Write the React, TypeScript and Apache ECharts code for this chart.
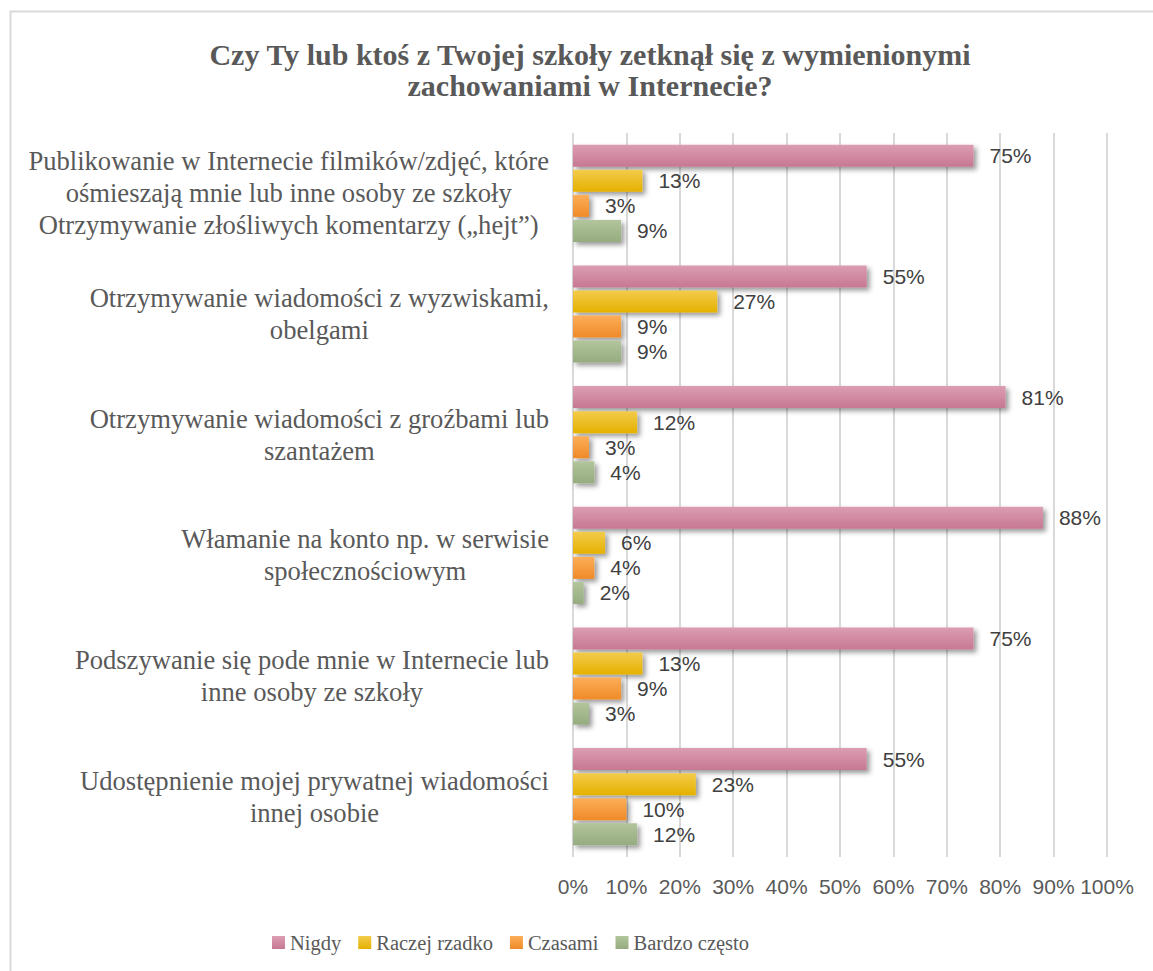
import React, { useEffect, useRef } from "react";
import * as echarts from "echarts";

const titleText = "Czy Ty lub ktoś z Twojej szkoły zetknął się z wymienionymi\nzachowaniami w Internecie?";

const categories = [
  "Publikowanie w Internecie filmików/zdjęć, które\nośmieszają mnie lub inne osoby ze szkoły\nOtrzymywanie złośliwych komentarzy („hejt”)",
  "Otrzymywanie wiadomości z wyzwiskami,\nobelgami",
  "Otrzymywanie wiadomości z groźbami lub\nszantażem",
  "Włamanie na konto np. w serwisie\nspołecznościowym",
  "Podszywanie się pode mnie w Internecie lub\ninne osoby ze szkoły",
  "Udostępnienie mojej prywatnej wiadomości\ninnej osobie",
];

const seriesNames = ["Nigdy", "Raczej rzadko", "Czasami", "Bardzo często"];

const nigdy = [75, 55, 81, 88, 75, 55];
const raczejRzadko = [13, 27, 12, 6, 13, 23];
const czasami = [3, 9, 3, 4, 9, 10];
const bardzoCzesto = [9, 9, 4, 2, 3, 12];

const seriesValues = [nigdy, raczejRzadko, czasami, bardzoCzesto];

const gradients: [string, string][] = [
  ["#dc9db3", "#c77893"],
  ["#f3cb4c", "#e5b100"],
  ["#fcae58", "#ef8a28"],
  ["#b2c59c", "#96ab7f"],
];

const SERIF = "'Liberation Serif', 'Times New Roman', serif";
const SANS = "'Liberation Sans', Arial, sans-serif";

export default function App() {
  const ref = useRef<HTMLDivElement>(null);

  useEffect(() => {
    if (!ref.current) return;
    const chart = echarts.init(ref.current, null, { renderer: "svg" });

    const series = seriesNames.map((name, i) => ({
      name,
      type: "bar",
      data: seriesValues[i],
      barWidth: 22,
      barGap: "14%",
      itemStyle: {
        color: new echarts.graphic.LinearGradient(0, 0, 0, 1, [
          { offset: 0, color: gradients[i][0] },
          { offset: 1, color: gradients[i][1] },
        ]),
        shadowColor: "rgba(0,0,0,0.4)",
        shadowBlur: 5,
        shadowOffsetX: 3,
        shadowOffsetY: 3,
      },
      label: {
        show: true,
        position: "right",
        distance: 16,
        formatter: "{c}%",
        fontFamily: SANS,
        fontSize: 21,
        color: "#404040",
      },
    }));

    chart.setOption({
      animation: false,
      backgroundColor: "#ffffff",
      graphic: [
        {
          type: "rect",
          shape: { x: 10.5, y: 11.5, width: 1300, height: 1200 },
          style: { fill: "none", stroke: "#d9d9d9", lineWidth: 2 },
          silent: true,
        },
        {
          type: "text",
          x: 590,
          y: 70,
          style: {
            text: titleText,
            textAlign: "center",
            textVerticalAlign: "middle",
            font: `bold 30px ${SERIF}`,
            lineHeight: 31,
            fill: "#595959",
          },
        },
      ],
      legend: {
        data: seriesNames,
        left: 267,
        top: 927,
        icon: "rect",
        itemWidth: 13,
        itemHeight: 13,
        itemGap: 17,
        textStyle: { fontFamily: SERIF, fontSize: 20.5, color: "#595959" },
      },
      grid: { left: 573, top: 133, width: 534, height: 724, containLabel: false },
      xAxis: {
        type: "value",
        min: 0,
        max: 100,
        interval: 10,
        axisLine: { show: false },
        axisTick: { show: false },
        splitLine: { show: true, lineStyle: { color: "#d9d9d9", width: 2 } },
        axisLabel: {
          formatter: "{value}%",
          fontFamily: SANS,
          fontSize: 21,
          color: "#595959",
          margin: 19,
        },
      },
      yAxis: {
        type: "category",
        data: categories,
        inverse: true,
        axisLine: { show: false },
        axisTick: { show: false },
        axisLabel: {
          margin: 24,
          formatter: (v: string) => v.split("\n").map((l) => `{c|${l}}`).join("\n"),
          rich: {
            c: {
              align: "center",
              fontFamily: SERIF,
              fontSize: 26.6,
              lineHeight: 32,
              color: "#595959",
            },
          },
        },
      },
      series,
    });

    return () => chart.dispose();
  }, []);

  return (
    <div
      ref={ref}
      style={{ position: "fixed", left: 0, top: 0, width: 1153, height: 971 }}
    />
  );
}
